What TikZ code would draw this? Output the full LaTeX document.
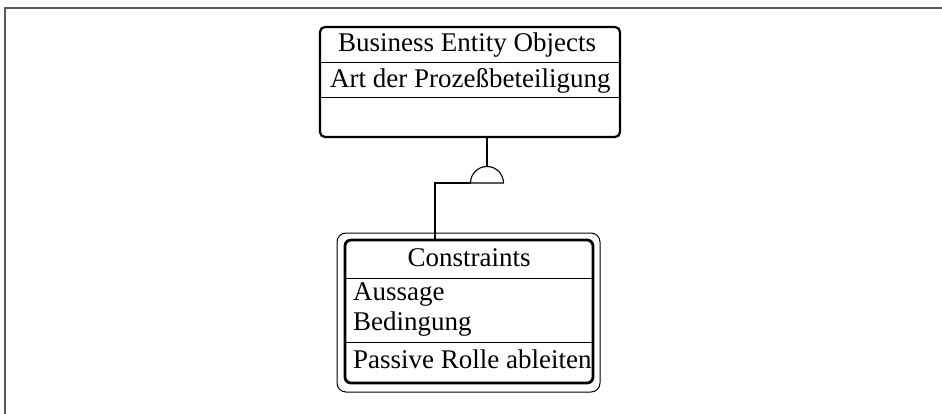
\documentclass[tikz,border=0pt]{standalone}
\usepackage{fontspec}
\setmainfont{Liberation Serif}
\begin{document}
\begin{tikzpicture}[x=1pt,y=-1pt,
  thickbox/.style={draw, line width=2.2pt, rounded corners=5pt, inner sep=0pt},
  outerbox/.style={draw, line width=1pt, rounded corners=9pt, inner sep=0pt},
  innerbox/.style={draw, line width=2.8pt, rounded corners=6pt, inner sep=0pt},
  divider/.style={line width=1pt},
  conn/.style={line width=1.1pt},
  lbl/.style={inner sep=0pt, font=\fontsize{27}{29}\selectfont},
  frame/.style={line width=1.5pt, black!65}]
\useasboundingbox (0,0) rectangle (942,414);
\draw[frame] (5,414) -- (5,8) -- (942,8);
% top box
\node[thickbox, minimum width=300pt, minimum height=110pt] (beo) at (470,82) {};
\draw[divider] (320,63) -- (620,63);
\draw[divider] (320,98) -- (620,98);
\node[lbl] (beot) at (467,45) {Business Entity Objects};
\node[lbl, anchor=west] (beoa) at (330,81) {Art der Prozeßbeteiligung};
% constraints box
\node[outerbox, minimum width=263pt, minimum height=159pt] (consout) at (468.5,312.5) {};
\node[innerbox, minimum width=248pt, minimum height=143pt] (cons) at (469,311.5) {};
\draw[divider] (345,278) -- (593,278);
\draw[divider] (345,342) -- (593,342);
\node[lbl] (const) at (469,258) {Constraints};
\node[lbl, anchor=west] (consa) at (353,295) {Aussage};
\node[lbl, anchor=west] (consb) at (353,324) {Bedingung};
\node[lbl, anchor=west] (consc) at (353,359) {Passive Rolle ableiten};
% connector with semicircle
\coordinate (semitop) at (487,166.5);
\coordinate (semil) at (470.5,183);
\coordinate (semir) at (503.5,183);
\coordinate (bend) at (435,183);
\coordinate (consin) at (435,240);
\draw[conn] (beo.south -| semitop) -- (semitop);
\draw[conn] (semil) arc[start angle=180, end angle=0, radius=16.5pt] -- cycle;
\draw[conn] (semil) -- (bend) -- (consin);
\end{tikzpicture}
\end{document}
